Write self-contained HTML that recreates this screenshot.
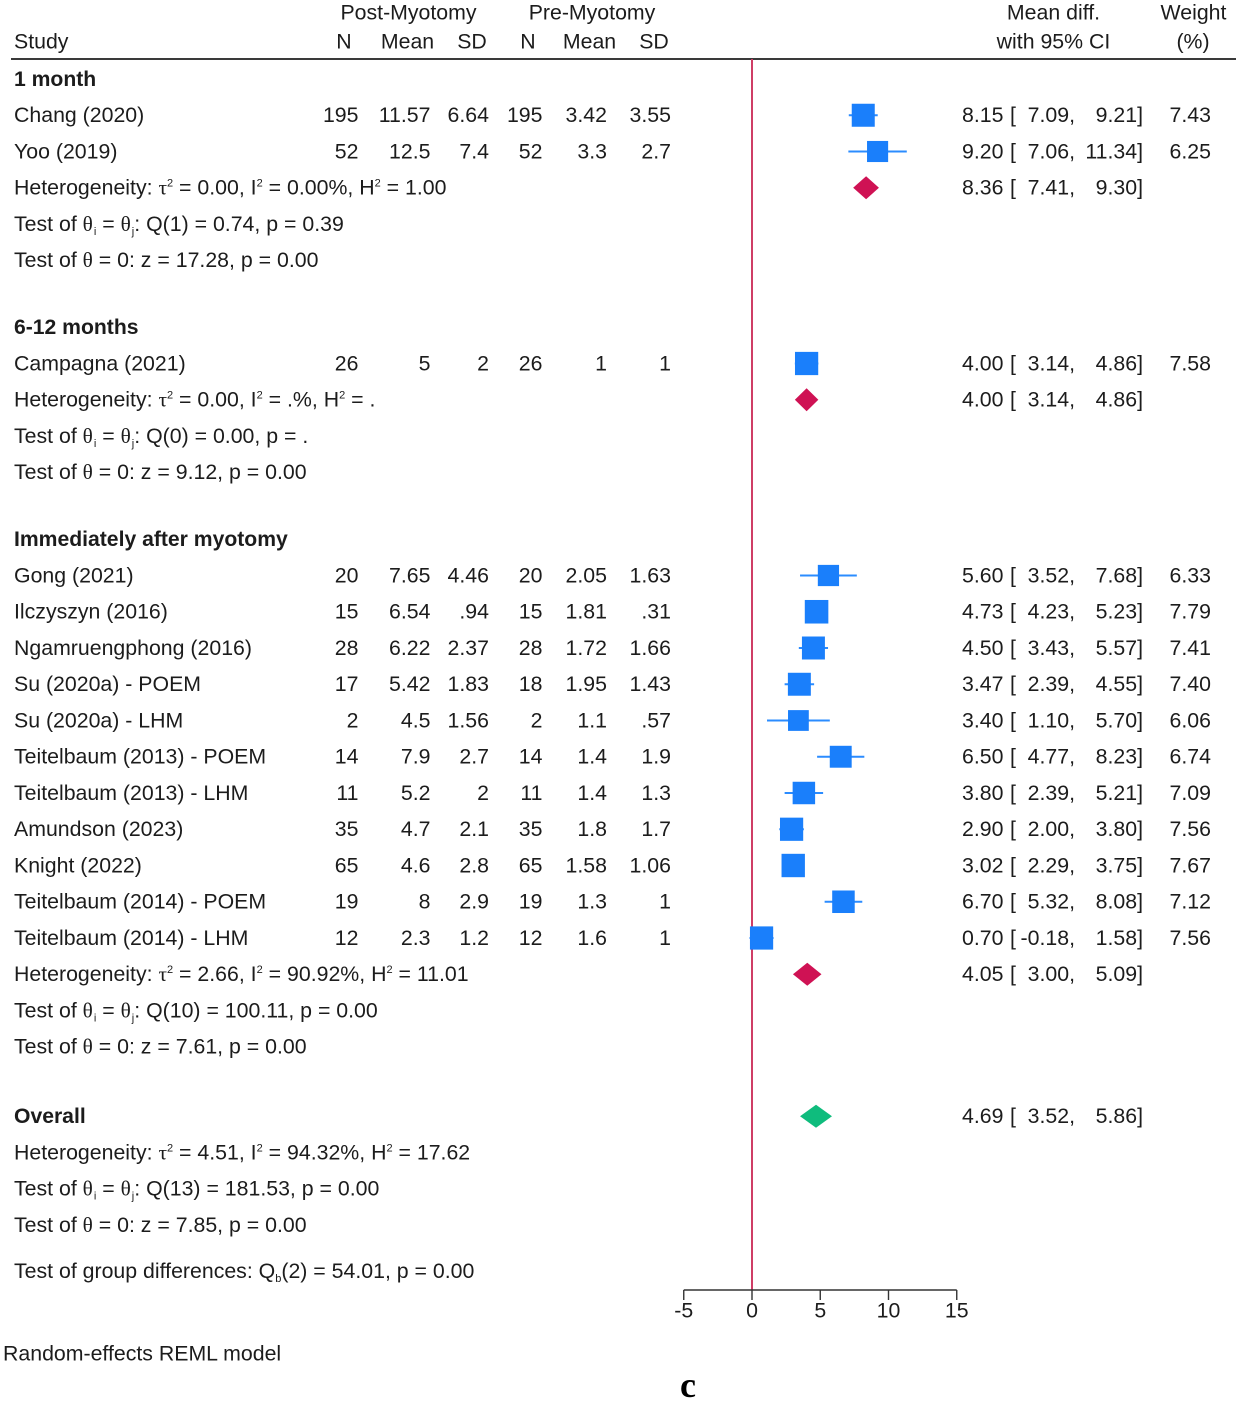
<!DOCTYPE html>
<html lang="en">
<head>
<meta charset="utf-8">
<title>Forest plot</title>
<style>
html,body{margin:0;padding:0;background:#fff;}
svg{display:block;filter:blur(0.35px);}
text{font-family:"Liberation Sans",Arial,sans-serif;font-size:21.3px;fill:#1c1c1c;}
.b{font-weight:bold;font-size:21.15px;}
.greek{font-family:"Liberation Serif",serif;}
</style>
</head>
<body>
<svg id="plot" xmlns="http://www.w3.org/2000/svg" width="1239" height="1404" viewBox="0 0 1239 1404">
  <rect x="0" y="0" width="1239" height="1404" fill="#fff"/>
  <g>
    <text x="408.5" y="19.5" text-anchor="middle">Post-Myotomy</text>
    <text x="592" y="19.5" text-anchor="middle">Pre-Myotomy</text>
    <text x="1053.5" y="19.5" text-anchor="middle">Mean diff.</text>
    <text x="1193.5" y="19.5" text-anchor="middle">Weight</text>
    <text x="14" y="48.3">Study</text>
    <text x="344" y="48.3" text-anchor="middle">N</text>
    <text x="407.5" y="48.3" text-anchor="middle">Mean</text>
    <text x="472" y="48.3" text-anchor="middle">SD</text>
    <text x="528" y="48.3" text-anchor="middle">N</text>
    <text x="589.5" y="48.3" text-anchor="middle">Mean</text>
    <text x="654" y="48.3" text-anchor="middle">SD</text>
    <text x="1053.5" y="48.3" text-anchor="middle">with 95% CI</text>
    <text x="1193" y="48.3" text-anchor="middle">(%)</text>
    <line x1="11" x2="1236" y1="59" y2="59" stroke="#3a3a3a" stroke-width="2"/>
  </g>
  <g id="rows"></g>
  <g id="axis"></g>
  <g id="marks"></g>
  <text x="3" y="1360.5">Random-effects REML model</text>
  <text x="688" y="1397" text-anchor="middle" style="font-family:'Liberation Serif',serif;font-weight:bold;font-size:36px;fill:#000">c</text>
</svg>
<script>
// Section data
const sectionTitles = ["1 month", "6-12 months", "Immediately after myotomy"];
const sectionCounts = [2, 1, 11];
const sectionEffect = [8.36, 4.00, 4.05];
const sectionLow = [7.41, 3.14, 3.00];
const sectionHigh = [9.30, 4.86, 5.09];
const sectionHet = [
  "Heterogeneity: τ^2 = 0.00, I^2 = 0.00%, H^2 = 1.00",
  "Heterogeneity: τ^2 = 0.00, I^2 = .%, H^2 = .",
  "Heterogeneity: τ^2 = 2.66, I^2 = 90.92%, H^2 = 11.01"
];
const sectionQ = [
  "Test of θ_i = θ_j: Q(1) = 0.74, p = 0.39",
  "Test of θ_i = θ_j: Q(0) = 0.00, p = .",
  "Test of θ_i = θ_j: Q(10) = 100.11, p = 0.00"
];
const sectionZ = [
  "Test of θ = 0: z = 17.28, p = 0.00",
  "Test of θ = 0: z = 9.12, p = 0.00",
  "Test of θ = 0: z = 7.61, p = 0.00"
];
// Study data
const studies = ["Chang (2020)", "Yoo (2019)", "Campagna (2021)", "Gong (2021)", "Ilczyszyn (2016)", "Ngamruengphong (2016)", "Su (2020a) - POEM", "Su (2020a) - LHM", "Teitelbaum (2013) - POEM", "Teitelbaum (2013) - LHM", "Amundson (2023)", "Knight (2022)", "Teitelbaum (2014) - POEM", "Teitelbaum (2014) - LHM"];
const postN = ["195", "52", "26", "20", "15", "28", "17", "2", "14", "11", "35", "65", "19", "12"];
const postMean = ["11.57", "12.5", "5", "7.65", "6.54", "6.22", "5.42", "4.5", "7.9", "5.2", "4.7", "4.6", "8", "2.3"];
const postSD = ["6.64", "7.4", "2", "4.46", ".94", "2.37", "1.83", "1.56", "2.7", "2", "2.1", "2.8", "2.9", "1.2"];
const preN = ["195", "52", "26", "20", "15", "28", "18", "2", "14", "11", "35", "65", "19", "12"];
const preMean = ["3.42", "3.3", "1", "2.05", "1.81", "1.72", "1.95", "1.1", "1.4", "1.4", "1.8", "1.58", "1.3", "1.6"];
const preSD = ["3.55", "2.7", "1", "1.63", ".31", "1.66", "1.43", ".57", "1.9", "1.3", "1.7", "1.06", "1", "1"];
const effects = [8.15, 9.20, 4.00, 5.60, 4.73, 4.50, 3.47, 3.40, 6.50, 3.80, 2.90, 3.02, 6.70, 0.70];
const ciLow = [7.09, 7.06, 3.14, 3.52, 4.23, 3.43, 2.39, 1.10, 4.77, 2.39, 2.00, 2.29, 5.32, -0.18];
const ciHigh = [9.21, 11.34, 4.86, 7.68, 5.23, 5.57, 4.55, 5.70, 8.23, 5.21, 3.80, 3.75, 8.08, 1.58];
const weights = [7.43, 6.25, 7.58, 6.33, 7.79, 7.41, 7.40, 6.06, 6.74, 7.09, 7.56, 7.67, 7.12, 7.56];
// Overall data
const overallEffect = [4.69];
const overallLow = [3.52];
const overallHigh = [5.86];
const overallLines = [
  "Heterogeneity: τ^2 = 4.51, I^2 = 94.32%, H^2 = 17.62",
  "Test of θ_i = θ_j: Q(13) = 181.53, p = 0.00",
  "Test of θ = 0: z = 7.85, p = 0.00"
];
const groupTest = ["Test of group differences: Q_b(2) = 54.01, p = 0.00"];
// Axis data
const axisTicks = [-5, 0, 5, 10, 15];
const nullValue = [0];

const SVGNS = "http://www.w3.org/2000/svg";
const rowsG = document.getElementById("rows");
const marksG = document.getElementById("marks");
const axisG = document.getElementById("axis");

function xScale(v) { return 752 + (v - 0) * 13.65; }
function sizeScale(w) { return 8.44 * Math.sqrt(w); }
function slug(s) { return String(s).toLowerCase().replace(/[^a-z0-9]+/g, "-").replace(/^-|-$/g, ""); }

function make(parent, tag, attrs, name) {
  const el = document.createElementNS(SVGNS, tag);
  for (const k in attrs) el.setAttribute(k, attrs[k]);
  
  
  parent.appendChild(el);
  return el;
}
function txt(parent, str, x, y, anchor, name, cls) {
  const a = { x: x, y: y, "text-anchor": anchor || "start" };
  if (cls) a["class"] = cls;
  const t = make(parent, "text", a, name);
  t.textContent = str;
  return t;
}
function rich(parent, str, x, y, name) {
  const t = make(parent, "text", { x: x, y: y }, name);
  const re = /(\^2|_[ijb]|[τθ])/g;
  let pending = 0;
  str.split(re).forEach(function (part) {
    if (!part) return;
    const s = document.createElementNS(SVGNS, "tspan");
    let shift = 0;
    if (part[0] === "^") {
      s.textContent = part.slice(1);
      s.setAttribute("font-size", "11");
      shift = -8;
    } else if (part[0] === "_" && part.length === 2) {
      s.textContent = part.slice(1);
      s.setAttribute("font-size", "11");
      shift = 4;
      if (part !== "_b") s.setAttribute("dx", "1");
    } else if (part === "τ" || part === "θ") {
      s.textContent = part;
      s.setAttribute("class", "greek");
    } else {
      s.textContent = part;
    }
    const dy = pending + shift;
    if (dy) s.setAttribute("dy", dy);
    pending = -shift;
    t.appendChild(s);
  });
  return t;
}
function ciCells(g, eff, lo, hi, y) {
  txt(g, eff.toFixed(2), 1003.5, y, "end", "effect-value");
  txt(g, "[", 1010, y, "start", "ci-open-bracket");
  txt(g, lo.toFixed(2) + ",", 1075, y, "end", "ci-lower-value");
  txt(g, hi.toFixed(2) + "]", 1143, y, "end", "ci-upper-value");
}
function diamond(eff, lo, hi, cy, color, name) {
  const pts = [[xScale(lo), cy], [xScale(eff), cy - 11.5], [xScale(hi), cy], [xScale(eff), cy + 11.5]];
  make(marksG, "polygon", { points: pts.map(function (p) { return p.join(","); }).join(" "), fill: color }, name);
}

const STEP = 36.25, BASE = 6.4;
let cy = 79.5, idx = 0;

sectionTitles.forEach(function (title, s) {
  const sec = make(rowsG, "g", {}, "section-" + slug(title));
  txt(sec, title, 14, cy + BASE, "start", "section-title", "b");
  cy += STEP;
  for (let c = 0; c < sectionCounts[s]; c++, idx++) {
    const by = cy + BASE;
    const row = make(sec, "g", {}, "study-row-" + slug(studies[idx]));
    txt(row, studies[idx], 14, by, "start", "study-name");
    txt(row, postN[idx], 358.5, by, "end", "post-n");
    txt(row, postMean[idx], 430.5, by, "end", "post-mean");
    txt(row, postSD[idx], 489, by, "end", "post-sd");
    txt(row, preN[idx], 542.5, by, "end", "pre-n");
    txt(row, preMean[idx], 607, by, "end", "pre-mean");
    txt(row, preSD[idx], 671, by, "end", "pre-sd");
    ciCells(row, effects[idx], ciLow[idx], ciHigh[idx], by);
    txt(row, weights[idx].toFixed(2), 1211, by, "end", "weight-value");
    make(marksG, "line", { x1: xScale(ciLow[idx]), x2: xScale(ciHigh[idx]), y1: cy - 0.5, y2: cy - 0.5, stroke: "#2b8cff", "stroke-width": 2 }, "ci-line-" + slug(studies[idx]));
    const z = sizeScale(weights[idx]);
    make(marksG, "rect", { x: xScale(effects[idx]) - z / 2, y: cy - 0.5 - z / 2, width: z, height: z, fill: "#1a7ffb" }, "study-square-" + slug(studies[idx]));
    cy += STEP;
  }
  rich(sec, sectionHet[s], 14, cy + BASE, "heterogeneity-text");
  ciCells(sec, sectionEffect[s], sectionLow[s], sectionHigh[s], cy + BASE);
  diamond(sectionEffect[s], sectionLow[s], sectionHigh[s], cy - 0.5, "#cf1254", "subgroup-diamond-" + slug(title));
  cy += STEP;
  rich(sec, sectionQ[s], 14, cy + BASE, "q-test-text");
  cy += STEP;
  rich(sec, sectionZ[s], 14, cy + BASE, "z-test-text");
  cy += (s === 2) ? 69.5 : 67;
});

const ov = make(rowsG, "g", {}, "overall-section");
txt(ov, "Overall", 14, cy + BASE, "start", "overall-title", "b");
ciCells(ov, overallEffect[0], overallLow[0], overallHigh[0], cy + BASE);
diamond(overallEffect[0], overallLow[0], overallHigh[0], cy - 0.5, "#0fbc7d", "overall-diamond");
overallLines.forEach(function (line, i) {
  cy += STEP;
  rich(ov, line, 14, cy + BASE, "overall-stat-" + (i + 1));
});
cy += 46;
rich(ov, groupTest[0], 14, cy + BASE, "group-differences-text");

// Axis and null line
const axisY = 1290;
make(axisG, "line", { x1: xScale(nullValue[0]), x2: xScale(nullValue[0]), y1: 59, y2: axisY, stroke: "#cf3d66", "stroke-width": 2 }, "null-line");
make(axisG, "line", { x1: xScale(axisTicks[0]), x2: xScale(axisTicks[axisTicks.length - 1]), y1: axisY, y2: axisY, stroke: "#333", "stroke-width": 1.6 }, "x-axis-line");
axisTicks.forEach(function (t) {
  make(axisG, "line", { x1: xScale(t), x2: xScale(t), y1: axisY, y2: axisY + 10, stroke: "#333", "stroke-width": 1.4 }, "x-tick-" + t);
  txt(axisG, String(t), xScale(t), 1317.5, "middle", "x-tick-label-" + t);
});
</script>
</body>
</html>
